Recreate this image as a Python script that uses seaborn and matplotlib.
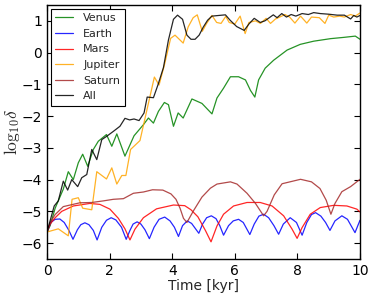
import numpy as np
import pandas as pd
import matplotlib
matplotlib.use("Agg")
import matplotlib.pyplot as plt
import seaborn as sns

planets = ["Venus", "Earth", "Mars", "Jupiter", "Saturn", "All"]
colors = ["#008000", "#0000ff", "#ff0000", "#ffa500", "#a52a2a", "#000000"]

venus_t = [0, 0.1, 0.26, 0.52, 0.68, 0.84, 1.0, 1.14, 1.3, 1.48, 1.64, 1.9, 2.07, 2.23, 2.49, 2.78,
           3.08, 3.24, 3.4, 3.56, 3.75, 3.88, 4.04, 4.19, 4.35, 4.63, 4.95, 5.27, 5.43, 5.64, 5.86,
           6.12, 6.34, 6.5, 6.64, 6.76, 6.97, 7.24, 7.67, 8.09, 8.52, 9.06, 9.48, 9.85, 10.0]
venus_v = [-5.65, -5.45, -4.9, -4.3, -3.75, -4.0, -3.47, -3.2, -3.58, -3.05, -2.79, -2.58, -2.95, -2.56, -3.26, -2.62,
           -2.27, -2.06, -2.22, -1.85, -1.57, -1.64, -2.32, -1.9, -2.06, -1.46, -1.6, -1.93, -1.43, -1.12, -0.76,
           -0.76, -0.86, -1.19, -1.4, -0.86, -0.49, -0.24, 0.08, 0.26, 0.36, 0.44, 0.48, 0.52, 0.42]

earth_t = [0, 0.12, 0.26, 0.41, 0.55, 0.7, 0.83, 0.97, 1.08, 1.21, 1.34, 1.48, 1.6, 1.75, 1.9, 2.05, 2.2,
           2.38, 2.53, 2.65, 2.75, 2.88, 3.0, 3.13, 3.27, 3.42, 3.58, 3.76, 3.93, 4.07, 4.2, 4.33, 4.48,
           4.62, 4.85, 4.97, 5.1, 5.25, 5.4, 5.52, 5.64, 5.8, 5.95, 6.12, 6.27, 6.48, 6.62, 6.77, 6.92,
           7.08, 7.25, 7.4, 7.55, 7.77, 7.97, 8.15, 8.3, 8.45, 8.58, 8.75, 8.9, 9.04, 9.2, 9.42, 9.6,
           9.84, 9.95, 10.0]
earth_v = [-5.65, -5.35, -5.25, -5.24, -5.35, -5.6, -5.88, -5.58, -5.42, -5.36, -5.42, -5.6, -5.9, -5.5, -5.28, -5.2, -5.27,
           -5.5, -5.88, -5.6, -5.4, -5.33, -5.4, -5.58, -5.86, -5.5, -5.25, -5.18, -5.3, -5.5, -5.79, -5.45, -5.3,
           -5.38, -5.69, -5.4, -5.2, -5.14, -5.23, -5.45, -5.75, -5.45, -5.3, -5.25, -5.35, -5.73, -5.4, -5.15, -5.09,
           -5.2, -5.45, -5.72, -5.4, -5.2, -5.35, -5.75, -5.35, -5.1, -5.04, -5.15, -5.35, -5.6, -5.3, -5.14, -5.25,
           -5.67, -5.4, -5.28]

mars_t = [0, 0.1, 0.26, 0.47, 0.84, 1.37, 1.69, 2.01, 2.28, 2.49, 2.65, 2.81, 3.08, 3.5, 4.04, 4.4, 4.6,
          4.82, 5.06, 5.24, 5.43, 5.64, 5.96, 6.39, 6.81, 7.19, 7.56, 7.83, 7.99, 8.15, 8.41, 8.73, 9.16,
          9.58, 9.9, 10.0]
mars_v = [-5.65, -5.4, -5.2, -5.0, -4.83, -4.75, -4.78, -4.93, -5.22, -5.55, -5.9, -5.56, -5.2, -4.92, -4.8, -4.82, -4.95,
          -5.17, -5.6, -5.96, -5.46, -5.09, -4.83, -4.72, -4.72, -4.83, -5.14, -5.56, -5.85, -5.51, -5.09, -4.88, -4.81,
          -4.83, -4.93, -5.02]

jupiter_t = [0, 0.36, 0.68, 0.8, 1.0, 1.14, 1.43, 1.59, 1.9, 2.07, 2.23, 2.39, 2.52, 2.67, 2.97, 3.43, 3.58,
             3.75, 3.95, 4.09, 4.35, 4.51, 4.67, 4.8, 4.96, 5.1, 5.27, 5.42, 5.56, 5.71, 5.82, 6.0, 6.17,
             6.33, 6.45, 6.66, 6.82, 7.0, 7.14, 7.3, 7.5, 7.6, 7.75, 7.92, 8.1, 8.3, 8.45, 8.7, 8.88, 9.0,
             9.16, 9.35, 9.5, 9.7, 9.85, 10.0]
jupiter_v = [-5.65, -5.55, -5.77, -4.62, -4.57, -4.9, -4.95, -3.75, -3.98, -3.63, -4.14, -3.87, -3.87, -3.05, -2.77, -0.77, -1.02,
             -0.39, 0.45, 0.55, 0.3, 0.81, 1.1, 1.19, 0.67, 0.92, 1.17, 0.95, 0.92, 1.14, 0.95, 0.9, 1.15,
             0.6, 0.95, 1.0, 0.92, 1.08, 0.92, 1.06, 1.15, 1.2, 1.12, 0.93, 1.15, 0.93, 1.12, 1.1, 0.92, 1.18,
             1.12, 1.15, 1.12, 1.2, 1.15, 1.25]

saturn_t = [0, 0.1, 0.26, 0.52, 1.05, 1.43, 1.8, 2.12, 2.44, 2.76, 3.08, 3.37, 3.7, 3.96, 4.12, 4.25, 4.36,
            4.47, 4.68, 4.95, 5.22, 5.43, 5.86, 6.07, 6.39, 6.66, 6.92, 7.03, 7.26, 7.51, 8.1, 8.45, 8.72,
            8.92, 9.07, 9.2, 9.42, 9.7, 10.0]
saturn_v = [-5.65, -5.35, -5.1, -4.85, -4.73, -4.72, -4.67, -4.62, -4.6, -4.43, -4.39, -4.32, -4.33, -4.45, -4.62, -4.9, -5.22,
            -5.35, -4.98, -4.55, -4.27, -4.14, -4.07, -4.14, -4.43, -4.75, -5.14, -5.0, -4.48, -4.13, -3.99, -4.07, -4.28,
            -4.65, -5.09, -4.75, -4.38, -4.22, -3.99]

all_t = [0, 0.23, 0.36, 0.52, 0.66, 0.79, 0.98, 1.11, 1.27, 1.43, 1.59, 1.75, 1.9, 2.12, 2.33, 2.49, 2.64,
         2.78, 2.94, 3.1, 3.2, 3.4, 3.55, 3.72, 3.88, 4.04, 4.17, 4.33, 4.47, 4.6, 4.73, 4.86, 4.99, 5.13,
         5.27, 5.7, 5.85, 6.06, 6.3, 6.45, 6.62, 6.81, 6.96, 7.23, 7.35, 7.5, 7.65, 7.8, 7.95, 8.15, 8.35,
         8.52, 8.73, 9.0, 9.27, 9.5, 9.7, 9.8, 9.9, 10.0]
all_v = [-5.65, -4.83, -4.67, -4.05, -4.33, -4.0, -4.22, -3.94, -3.84, -3.05, -3.37, -2.74, -2.64, -2.48, -2.32, -2.07, -2.12,
         -2.09, -2.14, -1.9, -1.4, -1.42, -1.0, -0.47, 0.4, 1.05, 1.18, 1.05, 0.55, 0.42, 0.42, 0.55, 0.8, 1.02,
         1.15, 1.19, 1.02, 0.82, 0.7, 0.9, 1.08, 0.95, 1.0, 1.19, 1.1, 1.23, 1.12, 1.2, 1.15, 1.23, 1.2,
         1.26, 1.23, 1.21, 1.18, 1.18, 1.06, 1.17, 1.12, 1.17]

times = [venus_t, earth_t, mars_t, jupiter_t, saturn_t, all_t]
values = [venus_v, earth_v, mars_v, jupiter_v, saturn_v, all_v]

frames = []
for name, tt, vv in zip(planets, times, values):
    frames.append(pd.DataFrame({"t": tt, "v": vv, "planet": name}))
df = pd.concat(frames, ignore_index=True)

sns.set_theme(style="ticks", rc={
    "xtick.direction": "in", "ytick.direction": "in",
    "xtick.top": True, "ytick.right": True,
    "xtick.major.size": 4, "ytick.major.size": 4,
    "axes.edgecolor": "black", "axes.linewidth": 1.0,
    "mathtext.fontset": "cm",
})
plt.rcParams["font.family"] = ["DejaVu Sans"]

fig = plt.figure(figsize=(3.74, 2.99), dpi=100)
ax = fig.add_axes([0.1257, 0.1338, 0.8369, 0.8495])

sns.lineplot(data=df, x="t", y="v", hue="planet", hue_order=planets,
             palette=dict(zip(planets, colors)), estimator=None, sort=False,
             linewidth=0.9, alpha=0.85, ax=ax)

ax.set_xlim(0, 10)
ax.set_ylim(-6.5, 1.5)
ax.set_xticks([0, 2, 4, 6, 8, 10])
ax.set_yticks([-6, -5, -4, -3, -2, -1, 0, 1])
ax.tick_params(labelsize=10, colors="black", width=0.8)
ax.set_xlabel("Time [kyr]", fontsize=10, labelpad=1)
ax.set_ylabel(r"$\log_{10}\!\delta$", fontsize=12.5, labelpad=0)

handles, labels = ax.get_legend_handles_labels()
ax.legend(handles, labels, loc="upper left", fontsize=8, frameon=True, fancybox=False,
          edgecolor="black", framealpha=1, handlelength=1.6, labelspacing=0.5,
          borderaxespad=0.35, handletextpad=0.9, borderpad=0.4)
ax.get_legend().get_frame().set_linewidth(0.8)

fig.savefig("out.png", dpi=100)
